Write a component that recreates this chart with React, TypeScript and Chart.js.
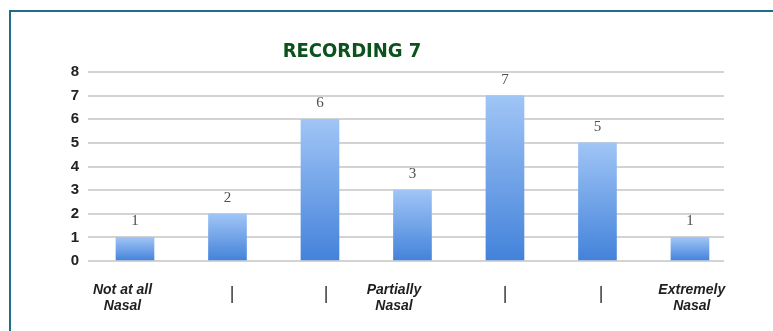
import React, { useEffect, useRef } from "react";
import { Chart, registerables } from "chart.js";

Chart.register(...registerables);

// Ratings for recording 7, one bar per point on the nasality scale
const categories = [1, 2, 3, 4, 5, 6, 7];
const counts = [1, 2, 6, 3, 7, 5, 1];
const tickLabels: (string | string[])[] = [
  ["Not at all", "Nasal"],
  "|",
  "|",
  ["Partially", "Nasal"],
  "|",
  "|",
  ["Extremely", "Nasal"],
];
const yTicks = [0, 1, 2, 3, 4, 5, 6, 7, 8];
const chartTitle = "RECORDING 7";

const W = 773;
const H = 331;

const titlePlugin = {
  id: "recordingTitle",
  afterDraw(chart: any) {
    const c = chart.ctx;
    c.save();
    c.font = "bold 20px 'DejaVu Sans Condensed', 'DejaVu Sans'";
    c.fillStyle = "#0b521d";
    c.textAlign = "center";
    c.textBaseline = "alphabetic";
    c.fillText(chartTitle, 352, 57);
    c.restore();
  },
};

const valueLabelPlugin = {
  id: "valueLabels",
  afterDatasetsDraw(chart: any) {
    const c = chart.ctx;
    const meta = chart.getDatasetMeta(0);
    c.save();
    c.font = "15px 'Liberation Serif', serif";
    c.fillStyle = "#4f4f4f";
    c.textAlign = "center";
    c.textBaseline = "middle";
    meta.data.forEach((bar: any, i: number) => {
      c.fillText(String(counts[i]), bar.x, bar.y - 16);
    });
    c.restore();
  },
};

export default function App() {
  const ref = useRef<HTMLCanvasElement | null>(null);

  useEffect(() => {
    if (!ref.current) return;
    const chart = new Chart(ref.current, {
      type: "bar",
      data: {
        datasets: [
          {
            data: categories.map((_, i) => ({ x: i, y: counts[i] })),
            barThickness: 38,
            borderWidth: 0,
            backgroundColor: (ctx: any) => {
              const chartObj = ctx.chart;
              const y = chartObj.scales?.y;
              if (!y || ctx.type !== "data") return "#6a9fe6";
              const top = y.getPixelForValue(ctx.parsed?.y ?? counts[ctx.dataIndex]);
              const base = y.getPixelForValue(0);
              if (!isFinite(top) || !isFinite(base) || top === base) return "#6a9fe6";
              const g = chartObj.ctx.createLinearGradient(0, top, 0, base);
              g.addColorStop(0, "#a0c5f6");
              g.addColorStop(1, "#4382da");
              return g;
            },
          },
        ],
      },
      options: {
        responsive: false,
        animation: false,
        devicePixelRatio: 1,
        layout: { padding: { top: 72, right: 49, left: 0, bottom: 0 } },
        plugins: {
          legend: { display: false },
          title: { display: false },
          tooltip: { enabled: false },
        },
        scales: {
          x: {
            type: "linear",
            min: -0.508,
            max: 6.368,
            bounds: "data",
            offset: false,
            grid: { display: false },
            border: { display: false },
            afterBuildTicks: (scale: any) => {
              // scale labels sit slightly off the bar centres
              const anchors = [-0.135, 1.05, 2.065, 2.8, 4.0, 5.04, 6.02];
              scale.ticks = anchors.map((v) => ({ value: v }));
            },
            afterFit: (scale: any) => {
              scale.height = 70;
            },
            ticks: {
              autoSkip: false,
              maxRotation: 0,
              minRotation: 0,
              padding: 13,
              color: (ctx: any) => (tickLabels[ctx.index] === "|" ? "#333333" : "#1f1f1f"),
              font: (ctx: any) =>
                tickLabels[ctx.index] === "|"
                  ? { family: "'Liberation Sans', sans-serif", size: 18, weight: "normal", lineHeight: 1.3 }
                  : { family: "'Liberation Sans', sans-serif", size: 14, weight: "bold", style: "italic", lineHeight: 1.15 },
              callback: (_v: any, index: number) => tickLabels[index],
            },
          },
          y: {
            min: 0,
            max: 8,
            afterBuildTicks: (scale: any) => {
              scale.ticks = yTicks.map((v) => ({ value: v }));
            },
            afterFit: (scale: any) => {
              scale.width = 88;
            },
            border: { display: false },
            grid: { color: "#d3d3d3", lineWidth: 2, drawTicks: false },
            ticks: {
              padding: 9,
              color: "#222222",
              font: { family: "'Liberation Sans', sans-serif", size: 15, weight: "bold" },
            },
          },
        },
      },
      plugins: [titlePlugin, valueLabelPlugin],
    } as any);
    return () => chart.destroy();
  }, []);

  return (
    <div style={{ position: "fixed", left: 0, top: 0, width: W, height: H, background: "#ffffff" }}>
      <div
        style={{
          position: "absolute",
          left: 9,
          top: 10,
          right: 0,
          bottom: 0,
          borderLeft: "2px solid #1b6f87",
          borderTop: "2px solid #1b6f87",
        }}
      />
      <canvas ref={ref} width={W} height={H} style={{ position: "absolute", left: 0, top: 0, width: W, height: H }} />
    </div>
  );
}
